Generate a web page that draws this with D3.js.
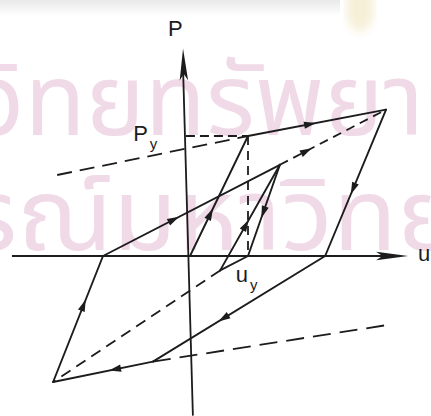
<!DOCTYPE html>
<html>
<head>
<meta charset="utf-8">
<script src="https://cdn.jsdelivr.net/npm/d3@7"></script>
<style>
  html, body { margin: 0; padding: 0; background: #fff; }
  svg { display: block; }
</style>
</head>
<body>
<svg id="chart" width="431" height="416"></svg>
<script>
// Hysteresis vertices: u in units of u_y, P in units of P_y
const vertexNames = ["O", "B", "A", "G", "D", "C", "H", "I", "K", "J", "E1", "E2", "Y"];
const vertexU     = [0,   1,   3.38, 2.33, -0.64, -2.36, -1.5, 1.55, 1.0, 0.52, -2.29, 3.40, -0.07];
const vertexP     = [0,   1,   1.22, 0,    -0.88, -1.05, 0,    0.76, 0,   -0.12, 0.675, -0.575, 1];

// Solid load path segments and where the direction arrow sits (fraction along segment)
const solidFrom  = ["O", "B", "A", "G", "D", "C", "H", "I", "K", "J"];
const solidTo    = ["B", "A", "G", "D", "C", "H", "I", "K", "J", "I"];
const solidArrow = [0.35, 0.45, 0.54, 0.59, 0.38, 0.61, 0.40, 0.52, null, 0.43];

// Dashed construction lines
const dashFrom  = ["I", "J", "B", "Y", "E1", "D"];
const dashTo    = ["A", "C", "K", "B", "B", "E2"];
const dashArrow = [0.25, null, null, null, null, null];
const dashStyle = ["9,6", "11,7", "9,6", "9,5", "15,8", "18,9"];

// Axis extents
const uAxisRange = [-3.07, 3.76];
const pAxisRange = [1.73, -1.33];
const pAxisLean  = [-0.12, 0.05];

// Labels
const axisLabels = [
  { text: "P", sub: "", u: -0.38, p: 1.83 },
  { text: "P", sub: "y", u: -0.98, p: 0.96 },
  { text: "u", sub: "y", u: 0.79, p: -0.22 },
  { text: "u", sub: "", u: 3.93, p: -0.04 }
];

// Faint library stamp behind the drawing
const stampLines = ["ศูนย์วิทยทรัพยากร", "จุฬาลงกรณ์มหาวิทยาลัย"];

const W = 431, H = 416;
const x = d3.scaleLinear().domain([0, 1]).range([190, 248]);
const y = d3.scaleLinear().domain([0, 1]).range([256, 136]);

const pt = {};
vertexNames.forEach((n, i) => { pt[n] = [x(vertexU[i]), y(vertexP[i])]; });

const svg = d3.select("#chart");
const ink = "#1c1c1c";

// soft paper marks along the top edge
const defs = svg.append("defs");
const haze = defs.append("linearGradient").attr("id", "topHaze")
  .attr("x1", 0).attr("y1", 0).attr("x2", 0).attr("y2", 1);
haze.append("stop").attr("offset", "0%").attr("stop-color", "#e9e9e9");
haze.append("stop").attr("offset", "100%").attr("stop-color", "#ffffff");
defs.append("filter").attr("id", "soft").append("feGaussianBlur").attr("stdDeviation", 5);
svg.append("rect").attr("x", 0).attr("y", 0).attr("width", 340).attr("height", 16)
  .attr("fill", "url(#topHaze)");
svg.append("ellipse").attr("cx", 360).attr("cy", 8).attr("rx", 14).attr("ry", 24)
  .attr("fill", "#f6f0d8").attr("filter", "url(#soft)");

// background stamp
const stamp = svg.append("g").attr("fill", "#f1dae8")
  .style("font-family", "'Noto Sans Thai', 'Noto Sans', 'DejaVu Sans', sans-serif");
stamp.append("text").attr("transform", "translate(-208,135) scale(1,1)")
  .attr("font-size", 100).text(stampLines[0]);
stamp.append("text").attr("transform", "translate(-382,250) scale(1.05,1)")
  .attr("font-size", 100).text(stampLines[1]);

// axes
svg.append("line")
  .attr("x1", x(uAxisRange[0])).attr("y1", y(0))
  .attr("x2", x(uAxisRange[1]) - 20).attr("y2", y(0))
  .attr("stroke", ink).attr("stroke-width", 1.8);
svg.append("line")
  .attr("x1", x(pAxisLean[0])).attr("y1", y(pAxisRange[0]) + 20)
  .attr("x2", x(pAxisLean[1])).attr("y2", y(pAxisRange[1]))
  .attr("stroke", ink).attr("stroke-width", 1.8);

// long thin axis arrowheads
function arrowHead(tip, dir, len, hw) {
  const [dx, dy] = dir, nx = -dy, ny = dx;
  const bx = tip[0] - dx * len, by = tip[1] - dy * len;
  const mx = tip[0] - dx * len * 0.8, my = tip[1] - dy * len * 0.8;
  return `M${tip[0]},${tip[1]}L${bx + nx * hw},${by + ny * hw}L${mx},${my}L${bx - nx * hw},${by - ny * hw}Z`;
}
svg.append("path")
  .attr("d", arrowHead([x(uAxisRange[1]), y(0)], [1, 0], 32, 4.2))
  .attr("fill", ink);
{
  const top = [x(pAxisLean[0]), y(pAxisRange[0])];
  const bot = [x(pAxisLean[1]), y(pAxisRange[1])];
  const L = Math.hypot(top[0] - bot[0], top[1] - bot[1]);
  svg.append("path")
    .attr("d", arrowHead(top, [(top[0] - bot[0]) / L, (top[1] - bot[1]) / L], 32, 4.2))
    .attr("fill", ink);
}

// small direction arrows on path segments
function segArrow(a, b, t, len = 12, hw = 3.6) {
  const L = Math.hypot(b[0] - a[0], b[1] - a[1]);
  const dx = (b[0] - a[0]) / L, dy = (b[1] - a[1]) / L;
  const cx = a[0] + (b[0] - a[0]) * t, cy = a[1] + (b[1] - a[1]) * t;
  const tip = [cx + dx * len / 2, cy + dy * len / 2];
  const nx = -dy, ny = dx;
  const bx = cx - dx * len / 2, by = cy - dy * len / 2;
  return `M${tip[0]},${tip[1]}L${bx + nx * hw},${by + ny * hw}L${bx - nx * hw},${by - ny * hw}Z`;
}

const line = d3.line();

// dashed lines
dashFrom.forEach((f, i) => {
  svg.append("path")
    .attr("d", line([pt[f], pt[dashTo[i]]]))
    .attr("fill", "none").attr("stroke", ink).attr("stroke-width", 1.8)
    .attr("stroke-dasharray", dashStyle[i]);
  if (dashArrow[i] != null) {
    svg.append("path").attr("d", segArrow(pt[f], pt[dashTo[i]], dashArrow[i])).attr("fill", ink);
  }
});

// solid load path
solidFrom.forEach((f, i) => {
  svg.append("path")
    .attr("d", line([pt[f], pt[solidTo[i]]]))
    .attr("fill", "none").attr("stroke", ink).attr("stroke-width", 1.9)
    .attr("stroke-linejoin", "round").attr("stroke-linecap", "round");
  if (solidArrow[i] != null) {
    svg.append("path").attr("d", segArrow(pt[f], pt[solidTo[i]], solidArrow[i])).attr("fill", ink);
  }
});

// labels
const lab = svg.append("g").attr("fill", ink)
  .style("font-family", "'Liberation Sans', Arial, sans-serif");
axisLabels.forEach(d => {
  const t = lab.append("text").attr("x", x(d.u)).attr("y", y(d.p)).attr("font-size", 22);
  t.append("tspan").text(d.text);
  if (d.sub) t.append("tspan").attr("font-size", 15).attr("dy", 8).attr("dx", 2).text(d.sub);
});
</script>
</body>
</html>
